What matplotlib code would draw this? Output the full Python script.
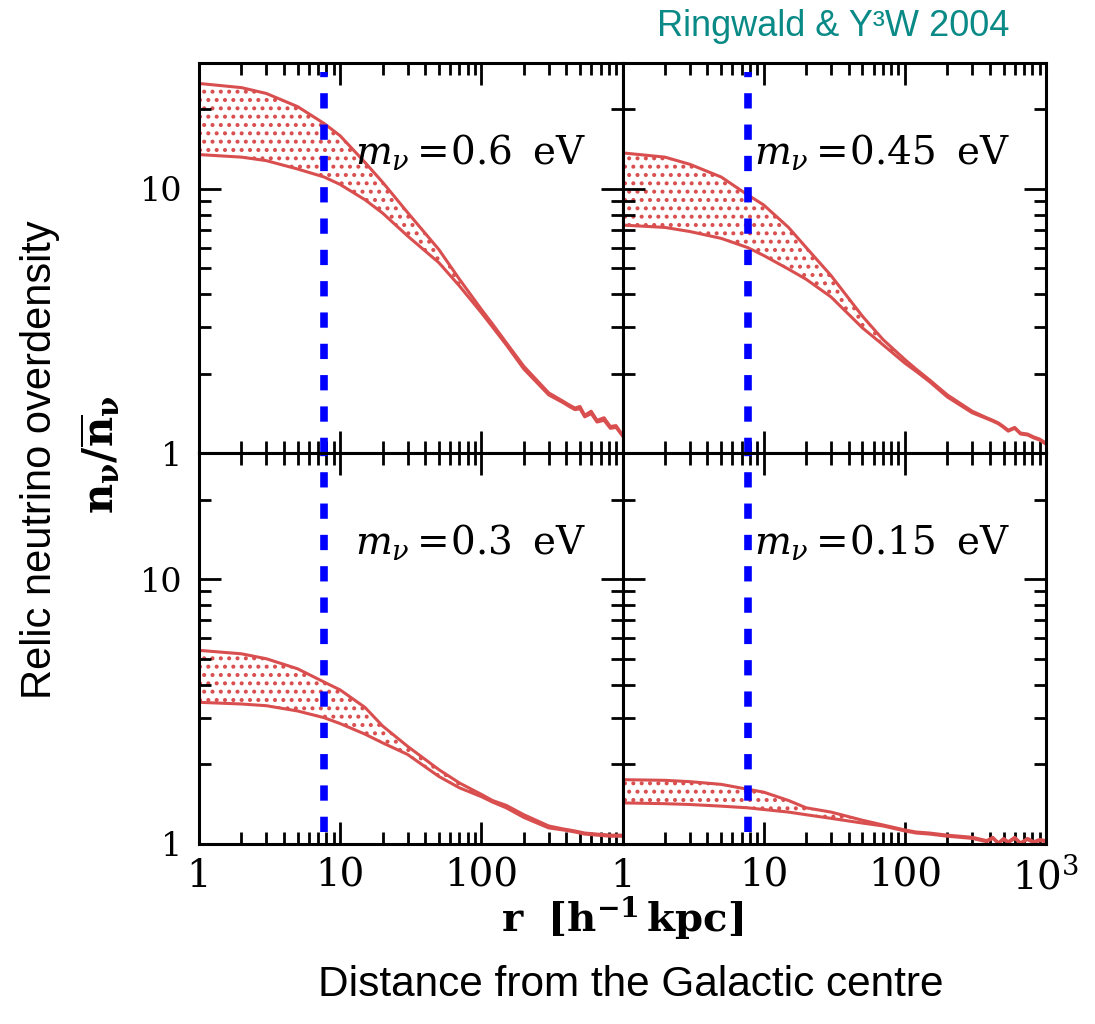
import matplotlib
matplotlib.use("Agg")
import matplotlib.pyplot as plt
from matplotlib.ticker import FixedLocator, NullFormatter, FixedFormatter

plt.rcParams['mathtext.fontset'] = 'dejavuserif'
plt.rcParams['hatch.linewidth'] = 1.7

# radius grid [h^-1 kpc]
r = [1, 2, 3, 5, 7.7, 10, 15, 20, 30, 50, 70, 100, 120, 150, 200, 300,
     380, 420, 460, 500, 540, 600, 660, 740, 820, 900, 1000]

# overdensity band (upper / lower) per neutrino mass
hi_060 = [25.1, 24.2, 23.0, 20.5, 17.7, 15.9, 12.6, 10.6, 8.15, 5.9, 4.55, 3.50, 3.08, 2.62, 2.13, 1.69,
          1.57, 1.52, 1.48, 1.50, 1.39, 1.44, 1.33, 1.36, 1.26, 1.27, 1.17]
lo_060 = [13.5, 13.2, 12.8, 11.9, 11.1, 10.4, 9.1, 8.1, 6.64, 5.26, 4.29, 3.40, 3.00, 2.57, 2.08, 1.66,
          1.55, 1.50, 1.46, 1.47, 1.37, 1.41, 1.31, 1.33, 1.24, 1.25, 1.16]

hi_045 = [13.7, 13.2, 12.4, 11.1, 9.5, 8.7, 7.15, 6.0, 4.7, 3.3, 2.69, 2.26, 2.08, 1.89, 1.66, 1.44,
          1.36, 1.33, 1.30, 1.26, 1.22, 1.25, 1.19, 1.18, 1.15, 1.13, 1.09]
lo_045 = [7.3, 7.15, 6.9, 6.5, 6.0, 5.6, 4.97, 4.55, 3.9, 2.98, 2.57, 2.19, 2.04, 1.86, 1.63, 1.42,
          1.35, 1.32, 1.29, 1.25, 1.21, 1.24, 1.18, 1.17, 1.14, 1.12, 1.08]

hi_030 = [5.39, 5.23, 5.01, 4.59, 4.09, 3.82, 3.28, 2.79, 2.34, 1.91, 1.70, 1.54, 1.46, 1.40, 1.29, 1.17,
          1.14, 1.13, 1.12, 1.11, 1.10, 1.095, 1.09, 1.085, 1.08, 1.08, 1.08]
lo_030 = [3.43, 3.38, 3.33, 3.18, 3.00, 2.85, 2.60, 2.41, 2.18, 1.80, 1.63, 1.51, 1.44, 1.37, 1.26, 1.15,
          1.13, 1.12, 1.11, 1.10, 1.09, 1.085, 1.08, 1.075, 1.07, 1.07, 1.07]

hi_015 = [1.75, 1.74, 1.72, 1.68, 1.61, 1.57, 1.46, 1.37, 1.32, 1.23, 1.18, 1.13, 1.11, 1.10, 1.08, 1.06,
          1.03, 1.06, 1.01, 1.05, 1.02, 1.06, 1.01, 1.05, 1.02, 1.04, 1.03]
lo_015 = [1.43, 1.42, 1.41, 1.39, 1.37, 1.35, 1.32, 1.29, 1.25, 1.20, 1.17, 1.12, 1.10, 1.09, 1.07, 1.05,
          1.02, 1.05, 1.005, 1.04, 1.01, 1.05, 1.005, 1.04, 1.01, 1.03, 1.02]

masses = ['0.6', '0.45', '0.3', '0.15']
bands = [(hi_060, lo_060), (hi_045, lo_045), (hi_030, lo_030), (hi_015, lo_015)]
r_sun = 7.7  # solar position

red = '#d94f4f'
blue = '#0000ff'
plt.rcParams['hatch.color'] = red

fig = plt.figure(figsize=(10.95, 10.24), dpi=100)
W, H = 1095.0, 1024.0
lefts = [199 / W, 622.5 / W]
rows = [(1 - 453 / H, 390 / H), (1 - 844 / H, 391 / H)]

for i in range(4):
    row, col = i // 2, i % 2
    ax = fig.add_axes([lefts[col], rows[row][0], 423.5 / W, rows[row][1]])
    hi, lo = bands[i]
    ax.set_xscale('log')
    ax.set_yscale('log')
    ax.fill_between(r, lo, hi, facecolor='none', edgecolor=red, hatch='..', linewidth=0)
    ax.plot(r, hi, color=red, lw=2.2)
    ax.plot(r, lo, color=red, lw=2.2)
    if row == 0:
        ax.axvline(r_sun, ymin=0, ymax=0.977, color=blue, lw=5.5, dashes=(2, 2.1))
    else:
        ax.axvline(r_sun, ymin=0.03, ymax=1, color=blue, lw=5.5, dashes=(2, 2.1))
    ax.set_xlim(1, 1000)
    ax.set_ylim(1, 30)

    ax.xaxis.set_major_locator(FixedLocator([1, 10, 100, 1000]))
    ax.xaxis.set_minor_locator(FixedLocator([2, 3, 4, 5, 6, 7, 8, 9, 20, 30, 40, 50, 60, 70, 80, 90,
                                             200, 300, 400, 500, 600, 700, 800, 900]))
    ax.yaxis.set_major_locator(FixedLocator([1, 10]))
    ax.yaxis.set_minor_locator(FixedLocator([2, 3, 4, 5, 6, 7, 8, 9, 20, 30]))
    ax.xaxis.set_minor_formatter(NullFormatter())
    ax.yaxis.set_minor_formatter(NullFormatter())

    if row == 1:
        xl = ['1', '10', '100', ''] if col == 0 else ['1', '10', '100', r'$\mathregular{10^3}$']
        ax.xaxis.set_major_formatter(FixedFormatter(xl))
    else:
        ax.xaxis.set_major_formatter(NullFormatter())
    if col == 0:
        ax.yaxis.set_major_formatter(FixedFormatter(['1', '10']))
    else:
        ax.yaxis.set_major_formatter(NullFormatter())

    ax.tick_params(which='both', direction='in', top=True, right=True, width=2)
    ax.tick_params(which='major', length=16)
    ax.tick_params(which='minor', length=8.5)
    ax.tick_params(axis='x', which='major', labelsize=28, pad=10)
    ax.tick_params(axis='y', which='major', labelsize=24, pad=12)
    for lab in ax.get_xticklabels() + ax.get_yticklabels():
        lab.set_family('DejaVu Serif')
    for sp in ax.spines.values():
        sp.set_linewidth(2.2)

    ax.text(0.915, 0.742, r'$m_{\nu}\,\!=\!0.%s\;\;\mathrm{eV}$' % masses[i][2:],
            transform=ax.transAxes, ha='right', va='baseline', fontsize=28)

fig.text(622 / W, 1 - 918 / H, r'$\mathbf{r\ \ [h^{-1}\,kpc]}$', ha='center', va='center', fontsize=29)
fig.text(100 / W, 1 - 455 / H, r'$\mathbf{n_{\nu}/\overline{n}_{\nu}}$', ha='center', va='center',
         rotation=90, fontsize=30)
fig.text(40 / W, 1 - 460 / H, 'Relic neutrino overdensity', ha='center', va='center', rotation=90,
         fontsize=30, family='Liberation Sans')
fig.text(631 / W, 1 - 985 / H, 'Distance from the Galactic centre', ha='center', va='center',
         fontsize=30.5, family='Liberation Sans')
fig.text(833 / W, 1 - 27 / H, 'Ringwald & Y³W 2004', ha='center', va='center',
         fontsize=26, family='Liberation Sans', color='#0a8a86')

fig.savefig('out.png', dpi=100)
